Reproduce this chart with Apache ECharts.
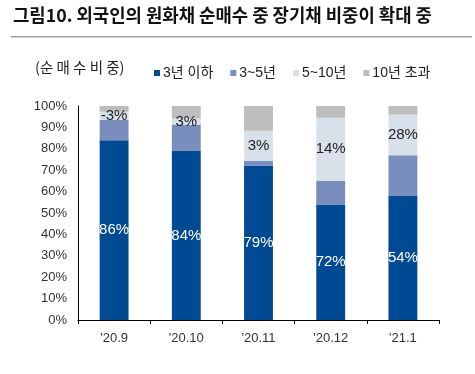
<!DOCTYPE html>
<html><head><meta charset="utf-8">
<script src="https://cdn.jsdelivr.net/npm/echarts@6/dist/echarts.min.js"></script>
<style>html,body{margin:0;padding:0;background:#fff}#c{width:475px;height:374px}</style>
</head><body><div id="c"></div>
<script>
var categories = ["'20.9", "'20.10", "'20.11", "'20.12", "'21.1"];
var under3 = [84, 79, 72, 54, 58];
var y3to5 = [9.5, 12.3, 2.4, 11, 19];
var y5to10 = [3.8, 2.8, 14, 29.5, 19];
var over10 = [2.7, 5.9, 11.6, 5.5, 4];
var under3Labels = ['86%', '84%', '79%', '72%', '54%'];
var y5to10Labels = ['-3%', '3%', '3%', '14%', '28%'];
var seriesNames = ['3년 이하', '3~5년', '5~10년', '10년 초과'];
var yTicks = [0, 10, 20, 30, 40, 50, 60, 70, 80, 90, 100];

var font = '"Liberation Sans", Arial, "Noto Sans CJK KR", sans-serif';
var chart = echarts.init(document.getElementById('c'));
function lab(arr, color) {
  return { show: true, position: 'inside', fontSize: 15, fontFamily: font, color: color,
    formatter: function (p) { return arr[p.dataIndex]; } };
}
chart.setOption({
  animation: false,
  textStyle: { fontFamily: font },
  graphic: [
    { type: 'text', left: 13, top: 6, style: { text: '그림10. 외국인의 원화채 순매수 중 장기채 비중이 확대 중',
      font: 'bold 17.8px "Noto Sans CJK KR", sans-serif', fill: '#111' } },
    { type: 'rect', shape: { x: 11, y: 36, width: 461, height: 1.5 }, style: { fill: '#a0a0a0' } },
    { type: 'text', left: 35, top: 60, style: { text: '(순 매 수 비 중)', font: '14.5px "Noto Sans CJK KR", sans-serif', fill: '#222' } }
  ],
  legend: {
    left: 149, top: 61, itemWidth: 6, itemHeight: 6, itemGap: 17, icon: 'rect',
    textStyle: { fontSize: 14, color: '#222', fontFamily: '"Liberation Sans", "Noto Sans CJK KR", sans-serif', padding: [0, 0, 0, -2] },
    data: seriesNames
  },
  grid: { left: 78, right: 36, top: 106, bottom: 54 },
  xAxis: {
    type: 'category', data: categories,
    axisLine: { lineStyle: { color: '#000', width: 1 } },
    axisTick: { show: true, length: 4, inside: false, lineStyle: { color: '#000' } },
    axisLabel: { fontSize: 13, color: '#333', margin: 12 }
  },
  yAxis: {
    type: 'value', min: 0, max: 100, interval: 10,
    axisLine: { show: true, lineStyle: { color: '#000' } },
    axisTick: { show: false },
    splitLine: { show: false },
    axisLabel: { fontSize: 13, color: '#333', margin: 11, formatter: '{value}%' }
  },
  series: [
    { name: seriesNames[0], type: 'bar', stack: 'a', barWidth: '40%', data: under3, itemStyle: { color: '#004A93' }, label: lab(under3Labels, '#fff') },
    { name: seriesNames[1], type: 'bar', stack: 'a', data: y3to5, itemStyle: { color: '#7A8EBE' } },
    { name: seriesNames[2], type: 'bar', stack: 'a', data: y5to10, itemStyle: { color: '#D8E0EA' }, label: lab(y5to10Labels, '#222') },
    { name: seriesNames[3], type: 'bar', stack: 'a', data: over10, itemStyle: { color: '#BDBDBD' } }
  ]
});
</script></body></html>
